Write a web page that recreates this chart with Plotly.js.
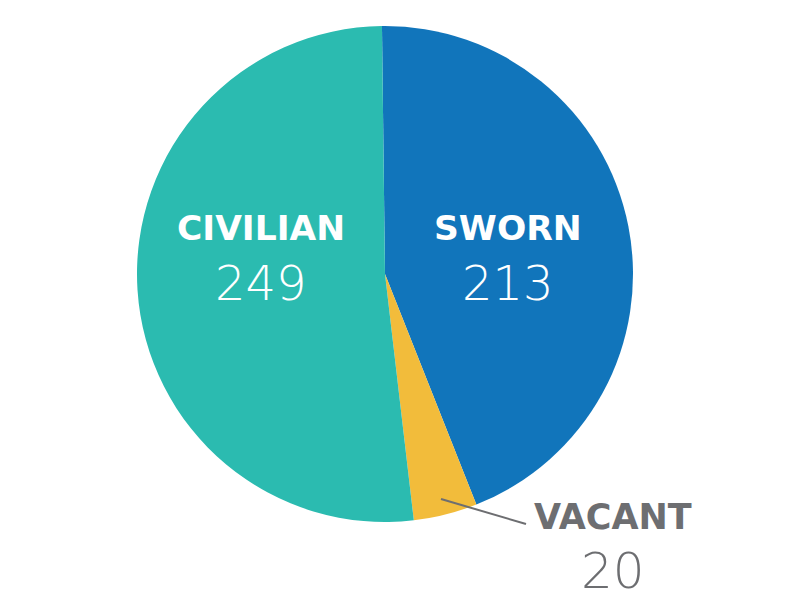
<!DOCTYPE html>
<html>
<head>
<meta charset="utf-8">
<script src="https://cdn.plot.ly/plotly-3.0.1.min.js"></script>
<style>html,body{margin:0;padding:0;background:#fff;}#chart{width:800px;height:600px;}</style>
</head>
<body>
<div id="chart"></div>
<script>
const categories = ["SWORN", "VACANT", "CIVILIAN"];
const values = [213, 20, 249];
const colors = ["#1175bb", "#f2bc3b", "#2bbbb0"];

const labelPos = [
  {x: 508, y: 228, ny: 283, color: "#ffffff", ls: 34.5, ns: 48},
  {x: 613, y: 517, ny: 571, color: "#6d6e71", ls: 35, ns: 50},
  {x: 261, y: 228, ny: 283, color: "#ffffff", ls: 34.5, ns: 48}
];

const annotations = [];
categories.forEach((c, i) => {
  const p = labelPos[i];
  annotations.push({
    text: c, x: p.x / 800, y: 1 - p.y / 600, xref: "paper", yref: "paper",
    xanchor: "center", yanchor: "middle", showarrow: false, borderpad: 0,
    font: {family: "'DejaVu Sans', sans-serif", size: p.ls, weight: 700, color: p.color}
  });
  annotations.push({
    text: String(values[i]), x: p.x / 800, y: 1 - p.ny / 600, xref: "paper", yref: "paper",
    xanchor: "center", yanchor: "middle", showarrow: false, borderpad: 0,
    font: {family: "'DejaVu Sans', sans-serif", size: p.ns, weight: 200, color: p.color}
  });
});

const data = [{
  type: "pie",
  labels: categories,
  values: values,
  sort: false,
  direction: "clockwise",
  rotation: -0.7,
  marker: {colors: colors, line: {width: 0}},
  textinfo: "none",
  hoverinfo: "none",
  showlegend: false,
  domain: {x: [137/800, 633/800], y: [1 - 522/600, 1 - 26/600]}
}];

const layout = {
  width: 800, height: 600,
  margin: {l: 0, r: 0, t: 0, b: 0},
  paper_bgcolor: "#ffffff",
  showlegend: false,
  annotations: annotations,
  shapes: [{
    type: "line", xref: "paper", yref: "paper",
    x0: 441/800, y0: 1 - 499/600, x1: 526/800, y1: 1 - 524/600,
    line: {color: "#6d6e71", width: 2}
  }]
};

Plotly.newPlot("chart", data, layout, {displayModeBar: false, staticPlot: true});
</script>
</body>
</html>
